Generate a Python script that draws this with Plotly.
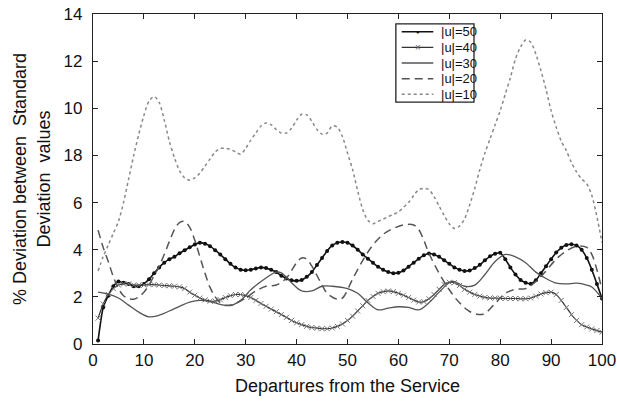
import plotly.graph_objects as go

# Departures (1..100) for the dense marked series
departures = list(range(1, 101))

dev_u50 = [0.15, 1.55, 2.05, 2.45, 2.65, 2.6, 2.55, 2.45, 2.45, 2.55,
           2.75, 3.0, 3.25, 3.45, 3.6, 3.7, 3.85, 3.98, 4.1, 4.22,
           4.3, 4.25, 4.15, 3.98, 3.8, 3.6, 3.4, 3.25, 3.15, 3.13,
           3.15, 3.2, 3.25, 3.22, 3.15, 3.05, 2.9, 2.78, 2.7, 2.68,
           2.72, 2.85, 3.05, 3.35, 3.65, 3.95, 4.18, 4.3, 4.33, 4.3,
           4.18, 4.0, 3.8, 3.62, 3.45, 3.28, 3.15, 3.05, 3.0, 3.02,
           3.12, 3.28, 3.45, 3.62, 3.76, 3.84, 3.8, 3.7, 3.55, 3.4,
           3.25, 3.15, 3.1, 3.12, 3.22, 3.36, 3.55, 3.72, 3.83, 3.87,
           3.6, 3.25, 2.95, 2.72, 2.6, 2.56, 2.7, 3.0, 3.3, 3.6,
           3.88, 4.08, 4.2, 4.23, 4.18, 4.0, 3.65, 3.15, 2.55, 1.93]

dev_u40 = [1.1, 1.7, 2.1, 2.35, 2.5, 2.55, 2.55, 2.5, 2.5, 2.5,
           2.52, 2.52, 2.5, 2.48, 2.47, 2.45, 2.42, 2.35, 2.2, 2.07,
           1.95, 1.87, 1.82, 1.82, 1.88, 1.97, 2.05, 2.1, 2.1, 2.05,
           1.97, 1.85, 1.72, 1.6, 1.48, 1.37, 1.25, 1.13, 1.0, 0.9,
           0.82, 0.75, 0.7, 0.67, 0.65, 0.65, 0.68, 0.75, 0.85, 1.0,
           1.18, 1.4, 1.62, 1.85, 2.02, 2.15, 2.22, 2.25, 2.22, 2.15,
           2.07, 1.97, 1.86, 1.78, 1.8, 1.92, 2.1, 2.32, 2.52, 2.62,
           2.6, 2.48, 2.32, 2.2, 2.1, 2.03, 1.98, 1.95, 1.95, 1.94,
           1.93, 1.93, 1.93, 1.92, 1.92, 1.95, 2.03, 2.12, 2.18, 2.2,
           2.1, 1.85, 1.55, 1.25, 1.0, 0.82, 0.72, 0.64, 0.57, 0.5]

x_u30 = [1, 3, 5, 7, 9, 11, 13, 15, 17, 19, 21, 23, 25, 27, 29, 31, 33, 35,
         36, 37, 39, 41, 43, 45, 47, 50, 52, 54, 56, 58, 60, 62, 64, 66, 68,
         70, 71, 73, 75, 77, 79, 81, 83, 85, 87, 89, 91, 93, 95, 97, 98, 100]
dev_u30 = [2.2, 2.12, 1.95, 1.65, 1.35, 1.15, 1.22, 1.4, 1.6, 1.78, 1.85,
           1.8, 1.68, 1.63, 1.85, 2.3, 2.65, 2.95, 3.05, 3.02, 2.6, 2.25,
           2.25, 2.45, 2.45, 2.35, 2.15, 1.75, 1.45, 1.52, 1.58, 1.55, 1.45,
           1.75, 2.2, 2.6, 2.65, 2.45, 2.5, 2.95, 3.5, 3.8, 3.7, 3.45, 3.05,
           2.78, 2.58, 2.55, 2.58, 2.5, 2.42, 1.93]

x_u20 = [1, 2, 3, 4, 5, 6, 7, 8, 9, 10, 11, 12, 13, 14, 15, 16, 17, 18, 19,
         20, 21, 22, 23, 24, 25, 26, 27, 28, 30, 32, 34, 36, 38, 40, 41, 42,
         43, 45, 46, 48, 49, 51, 53, 55, 57, 59, 61, 63, 64, 65, 66, 68, 70,
         72, 74, 76, 77, 79, 81, 83, 85, 87, 89, 91, 93, 95, 97, 98, 99, 100]
dev_u20 = [4.83, 4.1, 3.5, 2.85, 2.35, 2.05, 1.92, 1.9, 2.0, 2.2, 2.5, 2.9,
           3.3, 3.8, 4.35, 4.85, 5.15, 5.2, 4.95, 4.4, 3.7, 3.0, 2.4, 2.0,
           1.75, 1.65, 1.65, 1.72, 1.95, 2.25, 2.45, 2.5, 2.8, 3.45, 3.65,
           3.6, 3.3, 2.5, 2.15, 1.9, 1.95, 2.75, 3.55, 4.2, 4.65, 4.9, 5.05,
           5.05, 4.85, 4.4, 3.85, 3.0, 2.3, 1.75, 1.38, 1.25, 1.3, 1.72,
           2.15, 2.32, 2.35, 2.65, 3.1, 3.6, 3.95, 4.15, 4.1, 3.8, 3.15, 2.3]

dev_u10 = [3.1, 3.7, 4.2, 4.7, 5.2, 6.0, 7.0, 8.0, 8.9, 9.7,
           10.3, 10.5, 10.25, 9.5, 8.6, 7.9, 7.35, 7.05, 6.95, 7.05,
           7.25, 7.55, 7.85, 8.15, 8.3, 8.3, 8.25, 8.15, 8.05, 8.3,
           8.65, 8.95, 9.25, 9.38, 9.3, 9.1, 8.95, 8.95, 9.15, 9.5,
           9.75, 9.72, 9.45, 9.1, 8.9, 8.95, 9.25, 9.2, 8.8, 8.1,
           7.4, 6.5, 5.7, 5.25, 5.1, 5.2, 5.3, 5.4, 5.5, 5.6,
           5.8, 6.0, 6.3, 6.55, 6.6, 6.55, 6.25, 5.85, 5.45, 5.1,
           4.9, 5.0, 5.3, 5.9, 6.6, 7.4, 8.1, 8.7, 9.3, 9.9,
           10.6, 11.3, 12.1, 12.6, 12.9, 12.8, 12.3, 11.6, 10.8, 9.9,
           9.2, 8.6, 8.2, 7.7, 7.3, 7.0, 6.8, 6.3, 5.4, 4.3]

x_ticks = list(range(0, 101, 10))
y_ticks = [0, 2, 4, 6, 8, 10, 12, 14]
y_tick_text = ["0", "2", "4", "6", "18", "10", "12", "14"]

series_names = ["|u|=50", "|u|=40", "|u|=30", "|u|=20", "|u|=10"]

FONT = "Arial, Liberation Sans, sans-serif"

# Per-series styling: line colour, width, dash, marker glyph for the key
styles = [
    dict(color="#111111", width=1.6, dash="solid", glyph="●", gcolor="#111111", gsize=6),
    dict(color="#333333", width=1.2, dash="solid", glyph="×", gcolor="#666666", gsize=10),
    dict(color="#555555", width=1.3, dash="solid", glyph=None),
    dict(color="#555555", width=1.5, dash="8px,5px", glyph=None),
    dict(color="#888888", width=1.5, dash="dot", glyph=None),
]

fig = go.Figure()

fig.add_trace(go.Scatter(
    x=departures, y=dev_u50, name=series_names[0], mode="lines+markers",
    line=dict(color=styles[0]["color"], width=styles[0]["width"], shape="spline", smoothing=0.6),
    marker=dict(symbol="circle", size=4, color="#111111"),
))
fig.add_trace(go.Scatter(
    x=departures, y=dev_u40, name=series_names[1], mode="lines+markers",
    line=dict(color=styles[1]["color"], width=styles[1]["width"], shape="spline", smoothing=0.6),
    marker=dict(symbol="x-thin", size=5, line=dict(color="#777777", width=1)),
))
fig.add_trace(go.Scatter(
    x=x_u30, y=dev_u30, name=series_names[2], mode="lines",
    line=dict(color=styles[2]["color"], width=styles[2]["width"], shape="spline", smoothing=1.0),
))
fig.add_trace(go.Scatter(
    x=x_u20, y=dev_u20, name=series_names[3], mode="lines",
    line=dict(color=styles[3]["color"], width=styles[3]["width"], dash=styles[3]["dash"],
              shape="spline", smoothing=1.0),
))
fig.add_trace(go.Scatter(
    x=departures, y=dev_u10, name=series_names[4], mode="lines",
    line=dict(color=styles[4]["color"], width=styles[4]["width"], dash=styles[4]["dash"],
              shape="spline", smoothing=0.8),
))

# Compact boxed key in the upper middle of the plot (paper coordinates)
key_x0, key_x1, key_top, key_bottom = 0.595, 0.7485, 0.970, 0.733
row_step = (key_top - key_bottom) / len(series_names)
sample_x0, sample_x1, text_x = 0.6065, 0.6686, 0.679

shapes = [dict(type="rect", xref="paper", yref="paper",
               x0=key_x0, x1=key_x1, y0=key_bottom, y1=key_top,
               line=dict(color="#222222", width=1.3), fillcolor="white", layer="above")]
annotations = []
for i, (name, st) in enumerate(zip(series_names, styles)):
    yc = key_top - row_step * (i + 0.5)
    shapes.append(dict(type="line", xref="paper", yref="paper",
                       x0=sample_x0, x1=sample_x1, y0=yc, y1=yc, layer="above",
                       line=dict(color=st["color"], width=st["width"], dash=st["dash"])))
    annotations.append(dict(xref="paper", yref="paper", x=text_x, y=yc,
                            xanchor="left", yanchor="middle", showarrow=False, text=name,
                            font=dict(family=FONT, size=13, color="#111111")))
    if st["glyph"]:
        annotations.append(dict(xref="paper", yref="paper", x=(sample_x0 + sample_x1) / 2, y=yc,
                                xanchor="center", yanchor="middle", showarrow=False,
                                text=st["glyph"],
                                font=dict(family=FONT, size=st["gsize"], color=st["gcolor"])))

axis_common = dict(
    showline=True, linecolor="#222222", linewidth=1.3, mirror="ticks",
    ticks="inside", ticklen=5, tickwidth=1.2, tickcolor="#222222",
    showgrid=False, zeroline=False, automargin=False,
    tickfont=dict(family=FONT, size=17, color="#111111"),
)

fig.update_xaxes(
    range=[0, 100], tickvals=x_ticks,
    title=dict(text="Departures from the Service", standoff=10,
               font=dict(family=FONT, size=18, color="#111111")),
    **axis_common,
)
fig.update_yaxes(
    range=[0, 14], tickvals=y_ticks, ticktext=y_tick_text,
    ticklabelstandoff=6,
    title=dict(text="% Deviation between  Standard<br>Deviation  values", standoff=8,
               font=dict(family=FONT, size=18, color="#111111")),
    **axis_common,
)

fig.update_layout(
    width=617, height=401,
    margin=dict(l=93, r=15, t=14, b=57),
    paper_bgcolor="white", plot_bgcolor="white",
    font=dict(family=FONT, color="#111111"),
    showlegend=False,
    shapes=shapes,
    annotations=annotations,
)

fig.write_html("out.html")
